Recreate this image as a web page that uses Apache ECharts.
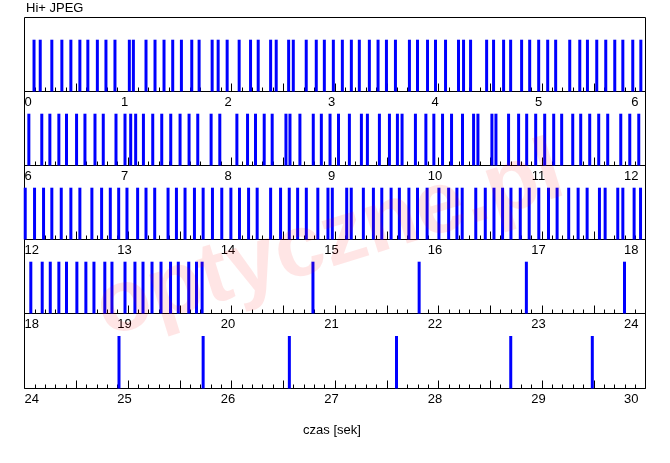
<!DOCTYPE html>
<html>
<head>
<meta charset="utf-8">
<script src="https://cdn.jsdelivr.net/npm/echarts@6/dist/echarts.min.js"></script>
<style>html,body{margin:0;padding:0;background:#fff}#c{width:670px;height:463px}</style>
</head>
<body>
<div id="c"></div>
<script>
const chartTitle = 'Hi+ JPEG';
const axisName = 'czas [sek]';
const watermarkText = 'optyczne.pl';
const rowStarts = [0, 6, 12, 18, 24];
const rowLength = 6;
const barLevel = 0.7;

// frame capture moments (seconds), one array per row of the chart
const frames0to6 = [0.092, 0.152, 0.264, 0.361, 0.448, 0.535, 0.612, 0.704, 0.787, 0.874, 1.013, 1.052, 1.174, 1.261, 1.348, 1.432, 1.516, 1.616, 1.687, 1.813, 1.871, 1.958, 2.074, 2.184, 2.258, 2.378, 2.432, 2.552, 2.597, 2.722, 2.819, 2.897, 2.984, 3.071, 3.158, 3.235, 3.332, 3.416, 3.497, 3.584, 3.719, 3.797, 3.894, 3.971, 4.068, 4.193, 4.242, 4.310, 4.465, 4.532, 4.629, 4.697, 4.803, 4.881, 4.968, 5.055, 5.132, 5.268, 5.365, 5.439, 5.529, 5.616, 5.703, 5.781, 5.877, 5.955];
const frames6to12 = [6.042, 6.167, 6.245, 6.332, 6.406, 6.503, 6.584, 6.681, 6.761, 6.884, 6.971, 7.026, 7.074, 7.149, 7.239, 7.326, 7.413, 7.503, 7.590, 7.674, 7.803, 7.887, 8.052, 8.155, 8.232, 8.316, 8.393, 8.526, 8.565, 8.661, 8.790, 8.868, 8.952, 9.034, 9.139, 9.255, 9.313, 9.429, 9.526, 9.603, 9.648, 9.777, 9.878, 9.955, 10.039, 10.126, 10.232, 10.339, 10.381, 10.516, 10.555, 10.677, 10.774, 10.852, 10.939, 11.026, 11.113, 11.190, 11.297, 11.374, 11.461, 11.548, 11.635, 11.761, 11.848, 11.935];
const frames12to18 = [12.007, 12.097, 12.184, 12.264, 12.355, 12.448, 12.535, 12.651, 12.745, 12.829, 12.910, 12.990, 13.093, 13.174, 13.258, 13.387, 13.468, 13.551, 13.642, 13.726, 13.816, 13.906, 13.994, 14.077, 14.165, 14.248, 14.378, 14.474, 14.558, 14.639, 14.723, 14.834, 14.932, 14.974, 15.113, 15.157, 15.274, 15.371, 15.452, 15.542, 15.622, 15.714, 15.797, 15.890, 16.004, 16.098, 16.178, 16.229, 16.360, 16.452, 16.536, 16.619, 16.700, 16.790, 16.876, 16.969, 17.063, 17.146, 17.258, 17.349, 17.436, 17.555, 17.610, 17.732, 17.781, 17.890, 17.952];
const frames18to24 = [18.061, 18.171, 18.249, 18.332, 18.406, 18.506, 18.593, 18.671, 18.776, 18.845, 18.971, 19.067, 19.145, 19.232, 19.319, 19.411, 19.486, 19.587, 19.662, 19.716, 20.787, 21.813, 22.849, 23.797];
const frames24to30 = [24.913, 25.726, 26.559, 27.594, 28.698, 29.486];
const rowFrames = [frames0to6, frames6to12, frames12to18, frames18to24, frames24to30];

const FONT = '"Liberation Sans", Arial, sans-serif';
const gridTops = [17.5, 91.5, 165.5, 239.5, 313.5];

const grids = [], xAxes = [], yAxes = [], series = [];
rowStarts.forEach((start, i) => {
  grids.push({
    left: 24.5, width: 621, top: gridTops[i], height: i === 4 ? 75 : 74,
    show: true, borderColor: '#000', borderWidth: 1, backgroundColor: 'transparent'
  });
  xAxes.push({
    gridIndex: i, type: 'value', min: start, max: start + rowLength, interval: 0.5,
    axisLine: { show: false },
    axisTick: { show: true, inside: true, length: 8, lineStyle: { color: '#000', width: 1 } },
    minorTick: { show: true, splitNumber: 5, length: 4, lineStyle: { color: '#000', width: 1 } },
    splitLine: { show: false }, minorSplitLine: { show: false },
    axisLabel: {
      show: true, color: '#000', fontSize: 13, fontFamily: FONT, margin: 4,
      padding: [0, 7, 0, 0],
      alignMinLabel: 'left', alignMaxLabel: 'right',
      showMinLabel: true, showMaxLabel: true, hideOverlap: false,
      formatter: v => Math.abs(v - Math.round(v)) < 1e-6 ? String(Math.round(v)) : ''
    },
    name: i === 4 ? axisName : '',
    nameLocation: 'middle', nameGap: 35,
    nameTextStyle: { color: '#000', fontSize: 13, fontFamily: FONT, padding: [0, 6, 0, 0] }
  });
  yAxes.push({
    gridIndex: i, type: 'value', min: 0, max: 1, show: false,
    splitLine: { show: false }
  });
  series.push({
    type: 'bar', xAxisIndex: i, yAxisIndex: i, barWidth: 3,
    itemStyle: { color: '#0000ff' }, silent: true, animation: false,
    data: rowFrames[i].map(t => [t, barLevel])
  });
});

const chart = echarts.init(document.getElementById('c'), null, { renderer: 'canvas' });
chart.setOption({
  animation: false,
  backgroundColor: '#fff',
  title: {
    text: chartTitle, left: 26, top: 2, padding: 0,
    textStyle: { color: '#000', fontSize: 13, fontWeight: 'normal', fontFamily: FONT }
  },
  grid: grids,
  xAxis: xAxes,
  yAxis: yAxes,
  series: series,
  graphic: [{
    type: 'text', x: 330, y: 242, rotation: 0.3, z: 100, silent: true,
    style: {
      text: watermarkText, fontSize: 88, fontWeight: 'bold', fontFamily: FONT,
      fill: 'rgba(255,0,0,0.1)', textAlign: 'center', textVerticalAlign: 'middle'
    }
  }]
});
</script>
</body>
</html>
